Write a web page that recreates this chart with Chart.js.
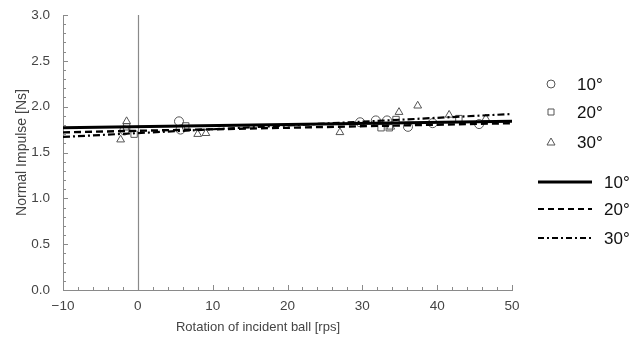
<!DOCTYPE html>
<html>
<head>
<meta charset="utf-8">
<script src="https://cdn.jsdelivr.net/npm/chart.js@4/dist/chart.umd.min.js"></script>
<style>
  html, body { margin: 0; padding: 0; background: #fff; }
  #wrap { width: 643px; height: 340px; position: relative; }
</style>
</head>
<body>
<div id="wrap"><canvas id="chart"></canvas></div>
<script>
const rot10 = [-1.8, 5.5, 5.7, 29.7, 31.8, 33.3, 36.1, 39.4, 45.6];
const imp10 = [1.74, 1.84, 1.75, 1.83, 1.85, 1.85, 1.78, 1.82, 1.81];
const rot20 = [-1.5, -0.5, 6.4, 32.5, 33.6, 34.5, 42.9];
const imp20 = [1.78, 1.70, 1.79, 1.77, 1.77, 1.86, 1.87];
const rot30 = [-2.3, -1.5, 8.0, 9.1, 27.0, 33.8, 34.9, 37.4, 41.6, 46.5];
const imp30 = [1.64, 1.84, 1.70, 1.71, 1.72, 1.78, 1.94, 2.01, 1.91, 1.87];

// Fitted lines (end points)
const fitX = [-10, 50];
const fit10 = [1.77, 1.84];
const fit20 = [1.72, 1.82];
const fit30 = [1.67, 1.92];

const xTicks = [-10, 0, 10, 20, 30, 40, 50];
const yTicks = [0, 0.5, 1.0, 1.5, 2.0, 2.5, 3.0];
const labels = ['10°', '20°', '30°'];

const pts = (xs, ys) => xs.map((x, i) => ({ x, y: ys[i] }));
const FONT = '"Liberation Sans", Arial, sans-serif';
const AXIS = '#8a8a8a';
const MARK = '#555';

// ticks pointing into the plot, the x = 0 line, x title and the legend
const decor = {
    id: 'decor',
    beforeDatasetsDraw(chart) {
        const { ctx, chartArea: a, scales: { x } } = chart;
        const px = x.getPixelForValue(0);
        ctx.save();
        ctx.strokeStyle = AXIS;
        ctx.lineWidth = 1.2;
        ctx.beginPath();
        ctx.moveTo(Math.round(px) + 0.5, a.top);
        ctx.lineTo(Math.round(px) + 0.5, a.bottom);
        ctx.stroke();
        ctx.restore();
    },
    afterDraw(chart) {
        const { ctx, chartArea: a, scales: { x, y } } = chart;
        ctx.save();
        ctx.strokeStyle = AXIS;
        ctx.lineWidth = 1;
        ctx.beginPath();
        for (let v = -10; v <= 50; v += 2) {
            const p = Math.round(x.getPixelForValue(v)) + 0.5;
            const len = v % 10 === 0 ? 5 : 3;
            ctx.moveTo(p, a.bottom);
            ctx.lineTo(p, a.bottom - len);
        }
        for (let i = 0; i <= 30; i++) {
            const p = Math.round(y.getPixelForValue(i / 10)) + 0.5;
            const len = i % 5 === 0 ? 5 : 3;
            ctx.moveTo(a.left, p);
            ctx.lineTo(a.left + len, p);
        }
        ctx.stroke();

        // x axis title
        ctx.font = '13px ' + FONT;
        ctx.fillStyle = '#444';
        ctx.textAlign = 'center';
        ctx.textBaseline = 'middle';
        ctx.fillText('Rotation of incident ball [rps]', 258, 327);

        // legend
        ctx.textAlign = 'left';
        ctx.font = '17px ' + FONT;
        ctx.fillStyle = '#111';
        const mk = [84, 112, 142];
        ctx.strokeStyle = MARK;
        ctx.lineWidth = 1;
        ['circle', 'rect', 'triangle'].forEach((s, i) => {
            const cx = 551, cy = mk[i];
            ctx.beginPath();
            if (s === 'circle') ctx.arc(cx, cy, 4, 0, Math.PI * 2);
            if (s === 'rect') ctx.rect(cx - 3, cy - 3, 6, 6);
            if (s === 'triangle') {
                ctx.moveTo(cx, cy - 4); ctx.lineTo(cx + 4, cy + 3); ctx.lineTo(cx - 4, cy + 3); ctx.closePath();
            }
            ctx.stroke();
            ctx.fillText(labels[i], 577, cy + 1);
        });
        const ly = [182, 209, 238];
        const dashes = [[], [6, 4], [6, 3, 2, 3]];
        const widths = [3, 2, 1.8];
        ly.forEach((yy, i) => {
            ctx.strokeStyle = '#000';
            ctx.lineWidth = widths[i];
            ctx.setLineDash(dashes[i]);
            ctx.beginPath();
            ctx.moveTo(538, yy);
            ctx.lineTo(592, yy);
            ctx.stroke();
            ctx.setLineDash([]);
            ctx.fillText(labels[i], 604, yy + 1);
        });
        ctx.restore();
    }
};

const scatterSet = (data, style) => ({
    type: 'scatter', data,
    pointStyle: style, pointRadius: 4.5, pointBorderWidth: 1,
    borderColor: MARK, backgroundColor: 'rgba(0,0,0,0)',
    pointBackgroundColor: 'rgba(0,0,0,0)', pointBorderColor: MARK,
    order: 2
});
const lineSet = (ys, dash, w) => ({
    type: 'line', data: pts(fitX, ys),
    borderColor: '#000', borderWidth: w, borderDash: dash,
    pointRadius: 0, fill: false, order: 1
});

new Chart(document.getElementById('chart'), {
    data: {
        datasets: [
            scatterSet(pts(rot10, imp10), 'circle'),
            scatterSet(pts(rot20, imp20), 'rect'),
            scatterSet(pts(rot30, imp30), 'triangle'),
            lineSet(fit10, [], 3),
            lineSet(fit20, [7, 4], 2.4),
            lineSet(fit30, [7, 3, 2, 3], 2.2)
        ]
    },
    options: {
        responsive: true,
        maintainAspectRatio: false,
        animation: false,
        layout: { padding: { top: 15, right: 131, left: 14, bottom: 0 } },
        plugins: { legend: { display: false }, tooltip: { enabled: false } },
        scales: {
            x: {
                type: 'linear', min: -10, max: 50,
                grid: { display: false },
                border: { display: true, color: AXIS, width: 1 },
                afterBuildTicks: s => { s.ticks = xTicks.map(v => ({ value: v })); },
                afterFit: s => { s.height = 50; },
                ticks: {
                    color: '#444', font: { family: FONT, size: 13.5 }, padding: 0,
                    maxRotation: 0,
                    callback: v => (v < 0 ? '\u2212' + Math.abs(v) : String(v))
                }
            },
            y: {
                type: 'linear', min: 0, max: 3,
                grid: { display: false },
                border: { display: true, color: AXIS, width: 1 },
                afterBuildTicks: s => { s.ticks = yTicks.map(v => ({ value: v })); },
                afterFit: s => { s.width = 49; },
                ticks: {
                    color: '#444', font: { family: FONT, size: 13.5 }, padding: 5,
                    callback: v => v.toFixed(1)
                },
                title: {
                    display: true, text: 'Normal Impulse [Ns]',
                    color: '#444', font: { family: FONT, size: 14 }, padding: 0
                }
            }
        }
    },
    plugins: [decor]
});
</script>
</body>
</html>
